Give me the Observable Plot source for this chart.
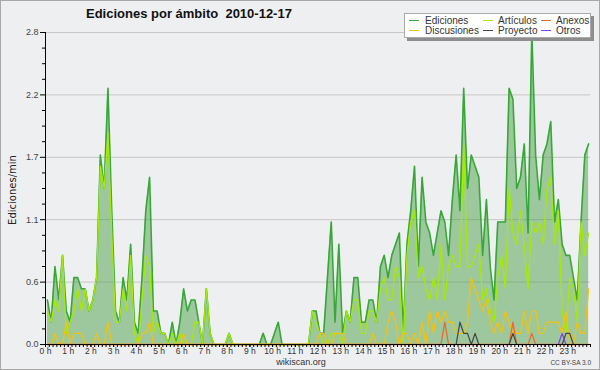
<!DOCTYPE html>
<html><head><meta charset="utf-8">
<script src="https://cdn.jsdelivr.net/npm/d3@7"></script>
<script src="https://cdn.jsdelivr.net/npm/@observablehq/plot@0.6"></script>
<style>
body{margin:0;background:#fff;}
#c{position:relative;width:600px;height:370px;background:#eeeff0;overflow:hidden;font-family:"Liberation Sans",Arial,sans-serif;}
#frame{position:absolute;left:0;top:0;width:600px;height:370px;box-sizing:border-box;border:1px solid #a8a8a8;pointer-events:none;}
#title{position:absolute;left:86px;top:6px;font-weight:bold;font-size:13px;color:#111;white-space:pre;}
#ylab{position:absolute;left:12px;top:190px;transform:translate(-50%,-50%) rotate(-90deg);font-family:"DejaVu Sans",sans-serif;font-size:10px;color:#222;white-space:nowrap;}
#site{position:absolute;left:301px;top:357px;transform:translateX(-50%);font-size:9px;line-height:10px;color:#333;}
#cc{position:absolute;right:9px;top:359px;font-size:6.5px;line-height:7px;color:#444;}
#legend{position:absolute;left:404px;top:13px;width:187px;height:25px;box-sizing:border-box;background:#fff;border:1px solid #aaa;box-shadow:3px 3px 0 #8e8e8e;}
.it{position:absolute;font-size:10px;color:#333;white-space:nowrap;}
.sw{position:absolute;height:1px;width:10px;}
svg{position:absolute;left:0;top:0;}
</style></head>
<body><div id="c"></div>
<script>
// Edits per minute, 10-minute steps from 00:00 to 23:50 (144 values per series)
const ediciones = [
0.4,0.2,0.7,0.4,0.8,0.3,0.2,0.6,0.6,0.5,0.5,0.3,
0.4,0.6,1.7,1.4,2.3,1.2,0.3,0.2,0.6,0.4,0.9,0.2,
0.1,0.6,1.2,1.5,0.3,0.3,0.1,0.1,0.0,0.2,0.0,0.2,
0.5,0.3,0.4,0.4,0.2,0.0,0.5,0.1,0,0,0,0,
0.1,0,0,0,0,0,0,0,0,0.1,0,0,
0.1,0.2,0,0,0,0,0,0,0,0,0.3,0.3,
0.1,0.1,0.6,1.1,0.2,0.9,0.1,0.3,0.2,0.6,0.6,0.2,
0.2,0.4,0.4,0.2,0.7,0.8,0.6,0.8,0.9,1.0,0.1,0.9,
1.2,1.6,0.7,1.5,1.1,1.0,0.8,1.0,1.2,1.1,0.8,1.3,
1.7,1.2,2.3,1.4,1.7,1.6,1.5,0.8,1.3,0.7,0.4,1.1,
1.1,1.1,2.3,2.2,1.4,1.5,1.8,1.0,2.8,1.7,1.3,1.7,
1.8,2.0,1.1,1.3,0.9,0.8,0.8,0.6,0.4,1.1,1.7,1.8];
const articulos = [
0.3,0.2,0.4,0.3,0.8,0.1,0.2,0.3,0.5,0.3,0.5,0.3,
0.4,0.6,1.6,1.4,1.9,1.0,0.2,0.2,0.5,0.3,0.8,0.1,
0,0.4,0.8,0.7,0.1,0.2,0.1,0.1,0,0.1,0,0.1,
0,0,0,0.2,0.2,0,0.5,0.1,0,0,0,0,
0.1,0,0,0,0,0,0,0,0,0,0,0,
0,0,0,0,0,0,0,0,0,0,0.3,0.2,
0.1,0,0,0.1,0.1,0.1,0,0.3,0.2,0.4,0.4,0.1,
0.1,0.3,0.3,0.2,0.5,0.6,0.4,0.4,0.7,0.6,0,0.8,
1.1,1.2,0.6,0.7,0.5,0.4,0.6,0.4,0.9,0.4,0.7,0.8,
0.7,0.7,1.8,0.7,0.7,0.8,0.9,0.4,0.5,0.3,0.2,0.6,
0.8,0.5,1.4,1.0,0.9,1.2,0.9,0.5,1.1,1.0,1.1,0.9,
1.4,1.5,0.9,1.2,0.3,0.1,0.6,0.5,0.2,1.1,0.8,1.0];
const discusiones = [
0,0,0.1,0,0,0.2,0,0.1,0.1,0.1,0,0,
0,0.1,0,0,0.2,0,0,0,0,0,0,0,
0,0.1,0.1,0.2,0,0,0,0,0,0,0,0,
0.1,0,0,0,0,0,0,0,0,0,0,0,
0,0,0,0,0,0,0,0,0,0,0,0,
0,0,0,0,0,0,0,0,0,0,0,0,
0.1,0.1,0,0,0.1,0.1,0.1,0,0,0,0,0,
0,0,0.1,0,0,0,0.2,0.3,0.2,0,0.1,0.1,
0,0.1,0,0.2,0,0.3,0.1,0.3,0.2,0.3,0.2,0.2,
0.1,0.1,0.1,0.2,0.6,0.5,0.4,0.3,0.4,0.2,0.1,0.2,
0.1,0.3,0.2,0.1,0.1,0.1,0.3,0.1,0.3,0.3,0.1,0.1,
0.2,0.2,0.2,0.2,0.1,0.3,0,0,0.2,0.1,0.1,0.5];
const anexos = [
0,0,0,0,0,0,0,0,0,0,0,0,
0,0,0,0,0,0,0,0,0,0,0,0,
0,0,0,0,0,0,0,0,0,0,0,0,
0,0,0,0,0,0,0,0,0,0,0,0,
0,0,0,0,0,0,0,0,0,0,0,0,
0,0,0,0,0,0,0,0,0,0,0,0,
0,0,0,0,0,0,0,0,0,0,0,0,
0,0,0,0,0,0,0,0,0,0,0,0,
0,0,0,0,0,0,0,0,0,0.2,0,0,
0,0,0,0,0,0,0,0,0,0,0,0,
0,0,0,0.2,0,0,0,0,0.1,0,0,0,
0,0,0,0,0,0,0,0,0,0,0,0];
const proyecto = [
0,0,0,0,0,0,0,0,0,0,0,0,
0,0,0,0,0,0,0,0,0,0,0,0,
0,0,0,0,0,0,0,0,0,0,0,0,
0,0,0,0,0,0,0,0,0,0,0,0,
0,0,0,0,0,0,0,0,0,0,0,0,
0,0,0,0,0,0,0,0,0,0,0,0,
0,0,0,0,0,0,0,0,0,0,0,0,
0,0,0,0,0,0,0,0,0,0,0,0,
0,0,0,0,0,0,0,0,0,0,0,0,
0,0.2,0.1,0.1,0,0.1,0,0,0,0,0,0,
0,0,0,0.1,0,0,0,0,0,0,0,0,
0,0,0,0,0,0.1,0.1,0,0,0,0,0];
const otros = [
0,0,0,0,0,0,0,0,0,0,0,0,
0,0,0,0,0,0,0,0,0,0,0,0,
0,0,0,0,0,0,0,0,0,0,0,0,
0,0,0,0,0,0,0,0,0,0,0,0,
0,0,0,0,0,0,0,0,0,0,0,0,
0,0,0,0,0,0,0,0,0,0,0,0,
0,0,0,0,0,0,0,0,0,0,0,0,
0,0,0,0,0,0,0,0,0,0,0,0,
0,0,0,0,0,0,0,0,0,0,0,0,
0,0,0,0,0,0,0,0,0,0,0,0,
0,0,0,0,0,0,0,0,0,0,0,0,
0,0,0,0,0.1,0,0,0,0,0,0,0];

const hours = [0,1,2,3,4,5,6,7,8,9,10,11,12,13,14,15,16,17,18,19,20,21,22,23];
const yMajor = [0, 0.56, 1.12, 1.68, 2.24, 2.8];
const yMinor = [0.14,0.28,0.42,0.7,0.84,0.98,1.26,1.4,1.54,1.82,1.96,2.1,2.38,2.52,2.66];
const seriesNames = ["Ediciones","Artículos","Anexos","Discusiones","Proyecto","Otros"];
const seriesColors = ["#37a837","#a6ea00","#ee6a2a","#f2c210","#444444","#7f3fe6"];

const xMinor = d3.range(0, 145).map(k => k / 6);
const rows = ediciones.map((v, i) => ({
  t: (i + 0.5) / 6, ed: v, ar: articulos[i], di: discusiones[i],
  an: anexos[i], pr: proyecto[i], ot: otros[i]
}));
const col = Object.fromEntries(seriesNames.map((n, i) => [n, seriesColors[i]]));

const chart = Plot.plot({
  width: 600, height: 370,
  marginLeft: 45, marginRight: 10, marginTop: 32, marginBottom: 26,
  style: {background: "transparent", fontFamily: "Liberation Sans, Arial, sans-serif", fontSize: "9px", color: "#000"},
  x: {domain: [0, 24]},
  y: {domain: [0, 2.8]},
  marks: [
    Plot.gridY(yMajor, {stroke: "#c6c6c6", strokeOpacity: 1}),
    Plot.areaY(rows, {x: "t", y: "ed", fill: "#3a9a3a", fillOpacity: 0.45}),
    Plot.lineY(rows, {x: "t", y: "ed", stroke: col["Ediciones"], strokeWidth: 1.6}),
    Plot.lineY(rows, {x: "t", y: "ar", stroke: col["Artículos"], strokeWidth: 1.3}),
    Plot.lineY(rows, {x: "t", y: "di", stroke: col["Discusiones"], strokeWidth: 1.3}),
    Plot.lineY(rows, {x: "t", y: "an", stroke: col["Anexos"], strokeWidth: 1.3}),
    Plot.lineY(rows, {x: "t", y: "pr", stroke: col["Proyecto"], strokeWidth: 1.2}),
    Plot.lineY(rows, {x: "t", y: "ot", stroke: col["Otros"], strokeWidth: 1.2}),
    Plot.axisY(yMajor, {tickFormat: d3.format(".1f"), tickSize: 5, tickPadding: 2, label: null, stroke: "#000", fill: "#444"}),
    Plot.axisY(yMinor, {tickFormat: () => "", tickSize: 3, label: null, stroke: "#000"}),
    Plot.axisX(hours, {tickFormat: d => d + " h", tickSize: 3, tickPadding: 0, label: null, stroke: "#000", fill: "#333", fontSize: 8.5}),
    Plot.axisX(xMinor, {tickFormat: () => "", tickSize: 3, label: null, stroke: "#000"}),
    Plot.ruleY([0], {stroke: "#000"}),
    Plot.ruleX([0], {stroke: "#000"})
  ]
});

const c = document.getElementById("c");
c.appendChild(chart);

function add(html) { c.insertAdjacentHTML("beforeend", html); }
add('<div id="title">Ediciones por ámbito  2010-12-17</div>');
add('<div id="ylab">Ediciones/min</div>');
add('<div id="site">wikiscan.org</div>');
add('<div id="cc">CC BY-SA 3.0</div>');

const legend = document.createElement("div");
legend.id = "legend";
c.appendChild(legend);
const colX = [[4, 20], [78, 93], [136, 151]];
const layout = [["Ediciones",0,0],["Artículos",1,0],["Anexos",2,0],["Discusiones",0,1],["Proyecto",1,1],["Otros",2,1]];
layout.forEach(([n, cx, ry]) => {
  const top = ry === 0 ? 1 : 11;
  legend.insertAdjacentHTML("beforeend",
    `<div class="sw" style="left:${colX[cx][0]}px;top:${top + 5}px;background:${col[n]}"></div>` +
    `<div class="it" style="left:${colX[cx][1]}px;top:${top}px">${n}</div>`);
});

const frame = document.createElement("div");
frame.id = "frame";
c.appendChild(frame);
</script>
</body></html>
